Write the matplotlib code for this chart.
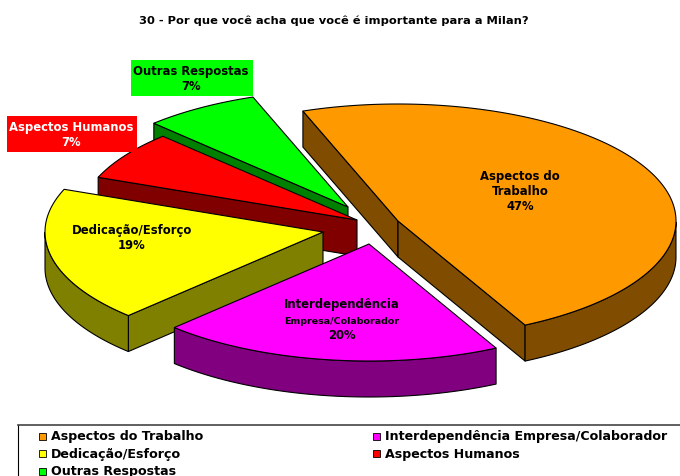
import numpy as np
import matplotlib
matplotlib.use("Agg")
import matplotlib.pyplot as plt
from matplotlib.patches import Polygon, Rectangle

plt.rcParams['font.family'] = ['DejaVu Sans']
plt.rcParams['font.weight'] = 'bold'

title = "30 - Por que você acha que você é importante para a Milan?"

# fatias, na ordem do grafico
names = ["Aspectos do Trabalho", "Interdependência Empresa/Colaborador",
         "Dedicação/Esforço", "Aspectos Humanos", "Outras Respostas"]
pct_labels = ["47%", "20%", "19%", "7%", "7%"]
# parcela lida da abertura de cada fatia no desenho
shares = [48.0, 19.9, 18.6, 6.75, 6.75]
top_colors = ["#FF9900", "#FF00FF", "#FFFF00", "#FF0000", "#00FF00"]
side_colors = ["#804D00", "#800080", "#808000", "#800000", "#008000"]

# layout em pixels
START_ANGLE = 110
RX, RY = 278, 117
DEPTH = 36
apex = [(398, 222), (369, 245), (323, 233), (357, 221), (348, 208)]
draw_order = [4, 3, 2, 0, 1]

fig = plt.figure(figsize=(6.8, 4.77), dpi=100)
ax = fig.add_axes([0, 0, 1, 1])
ax.set_xlim(0, 680)
ax.set_ylim(477, 0)
ax.axis('off')

ends = START_ANGLE - np.cumsum(shares) * 3.6
starts = np.r_[START_ANGLE, ends[:-1]]

for i in draw_order:
    cx, cy = apex[i]
    t = np.radians(np.linspace(starts[i], ends[i], 240))
    x = cx + RX * np.cos(t)
    y = cy - RY * np.sin(t)
    side = dict(fc=side_colors[i], ec='black', lw=0.8, joinstyle='round')

    # faces do corte, so as que olham para baixo aparecem
    if np.cos(t[0]) < 0:
        face = [(cx, cy), (x[0], y[0]), (x[0], y[0] + DEPTH), (cx, cy + DEPTH)]
        ax.add_patch(Polygon(face, closed=True, **side))
    if np.cos(t[-1]) > 0:
        face = [(cx, cy), (x[-1], y[-1]), (x[-1], y[-1] + DEPTH), (cx, cy + DEPTH)]
        ax.add_patch(Polygon(face, closed=True, **side))

    # parede curva, so a metade da frente
    front = np.sin(t) < 0
    if front.any():
        rim = np.r_[np.c_[x[front], y[front]], np.c_[x[front], y[front] + DEPTH][::-1]]
        ax.add_patch(Polygon(rim, closed=True, **side))

    top = np.r_[[(cx, cy)], np.c_[x, y]]
    ax.add_patch(Polygon(top, closed=True, fc=top_colors[i], ec='black', lw=0.8))

ax.text(334, 21, title, fontsize=8.25, ha='center', va='center')

# rotulos
LABEL_SIZE = 8.4
ax.text(520, 177, "Aspectos do", fontsize=LABEL_SIZE, ha='center', va='center')
ax.text(520, 192, "Trabalho", fontsize=LABEL_SIZE, ha='center', va='center')
ax.text(520, 207, pct_labels[0], fontsize=LABEL_SIZE, ha='center', va='center')

ax.text(342, 305, "Interdependência", fontsize=LABEL_SIZE, ha='center', va='center')
ax.text(342, 322, "Empresa/Colaborador", fontsize=6.8, ha='center', va='center')
ax.text(342, 336, pct_labels[1], fontsize=LABEL_SIZE, ha='center', va='center')

ax.text(132, 231, names[2], fontsize=LABEL_SIZE, ha='center', va='center')
ax.text(132, 246, pct_labels[2], fontsize=LABEL_SIZE, ha='center', va='center')

ax.add_patch(Rectangle((7, 117), 130, 36, fc=top_colors[3], ec='none'))
ax.text(71, 128, names[3], fontsize=LABEL_SIZE, color='white', ha='center', va='center')
ax.text(71, 143, pct_labels[3], fontsize=LABEL_SIZE, color='white', ha='center', va='center')

ax.add_patch(Rectangle((131, 61), 122, 36, fc=top_colors[4], ec='none'))
ax.text(191, 71, names[4], fontsize=LABEL_SIZE, ha='center', va='center')
ax.text(191, 86, pct_labels[4], fontsize=LABEL_SIZE, ha='center', va='center')

# legenda, cortada pela borda da figura como no original
ax.plot([18, 18], [477, 426], color='black', lw=0.8)
ax.plot([18, 680], [426, 426], color='#444444', lw=1.2)
legend_pos = [(39, 437), (373, 437), (39, 454.5), (373, 454.5), (39, 472)]
for i, (lx, ly) in enumerate(legend_pos):
    ax.add_patch(Rectangle((lx, ly - 3.5), 7, 7, fc=top_colors[i], ec='black', lw=0.6))
    ax.text(lx + 12, ly, names[i], fontsize=9.1, ha='left', va='center')

fig.savefig('out.png', dpi=100)
